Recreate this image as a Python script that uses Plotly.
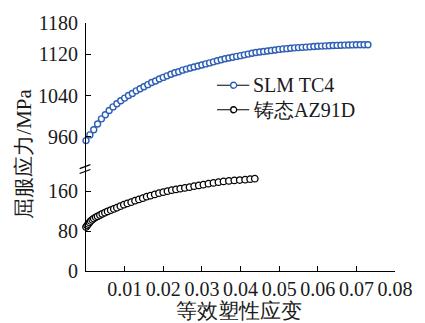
import plotly.graph_objects as go

# ---------------- data ----------------
tc4_strain = [0.000, 0.001, 0.002, 0.003, 0.004, 0.005, 0.006, 0.007, 0.008, 0.009,
              0.010, 0.011, 0.012, 0.013, 0.014, 0.015, 0.016, 0.017, 0.018, 0.019,
              0.020, 0.021, 0.022, 0.023, 0.024, 0.025, 0.026, 0.027, 0.028, 0.029,
              0.030, 0.031, 0.032, 0.033, 0.034, 0.035, 0.036, 0.037, 0.038, 0.039,
              0.040, 0.041, 0.042, 0.043, 0.044, 0.045, 0.046, 0.047, 0.048, 0.049,
              0.050, 0.051, 0.052, 0.053, 0.054, 0.055, 0.056, 0.057, 0.058, 0.059,
              0.060, 0.061, 0.062, 0.063, 0.064, 0.065, 0.066, 0.067, 0.068, 0.069,
              0.070, 0.071, 0.072, 0.073]
tc4_stress = [953, 964, 974, 985, 995, 1003, 1011, 1018, 1024, 1030,
              1035, 1040, 1044, 1049, 1053, 1057, 1061, 1065, 1068, 1072,
              1075, 1078, 1081, 1084, 1086, 1089, 1091, 1093, 1095, 1097,
              1099, 1101, 1103, 1105, 1107, 1109, 1111, 1112.5, 1114, 1115.5,
              1117, 1118.5, 1120, 1121.5, 1123, 1124, 1125, 1126, 1127, 1128,
              1129, 1130, 1130.5, 1131.3, 1132, 1132.5, 1133, 1133.5, 1134, 1134.5,
              1135, 1135.4, 1135.8, 1136.2, 1136.5, 1136.8, 1137, 1137.3, 1137.5, 1137.7,
              1138, 1138, 1138, 1138]

az91_strain = [0.0, 0.0003, 0.0006, 0.0009, 0.0012, 0.0016, 0.002, 0.0025, 0.003, 0.0036,
               0.0042, 0.0049, 0.0056, 0.0064, 0.0072, 0.008, 0.0089, 0.0098, 0.0107, 0.0117,
               0.0127, 0.0137, 0.0147, 0.0157, 0.0167, 0.0178, 0.0189, 0.02, 0.0211, 0.0222,
               0.0233, 0.0244, 0.0256, 0.0268, 0.028, 0.0292, 0.0304, 0.0317, 0.033, 0.0343,
               0.0356, 0.037, 0.0384, 0.0398, 0.0412, 0.0425, 0.0437]
az91_stress = [88, 91, 94, 97, 100, 102.5, 105, 107.5, 109.5, 112,
               114.5, 117, 119.5, 122, 124.5, 127, 130, 133, 135.5, 138,
               141, 143.5, 146, 149, 151, 153.5, 156, 158, 160, 162,
               163.5, 165, 166.5, 168, 170, 171.5, 173, 175, 176.5, 178,
               179.5, 180.5, 181.5, 182.3, 183, 184, 185]

series_names = ["SLM TC4", "铸态AZ91D"]
x_ticks = [0.01, 0.02, 0.03, 0.04, 0.05, 0.06, 0.07, 0.08]
y_upper_ticks = [960, 1040, 1120, 1180]
y_lower_ticks = [0, 80, 160]
x_title = "等效塑性应变"
y_title = "屈服应力/MPa"

# ---------------- style ----------------
BLUE = "#2d5fb5"
TXT = "#1a1a1a"
FONT = "Liberation Serif"
SPLIT = 0.411

fig = go.Figure()
fig.add_trace(go.Scatter(
    x=tc4_strain, y=tc4_stress, xaxis="x", yaxis="y2", mode="lines+markers",
    name=series_names[0], cliponaxis=False, showlegend=False,
    line=dict(color="black", width=0.8),
    marker=dict(symbol="circle", size=6, color="white", line=dict(color=BLUE, width=1.4)),
))
fig.add_trace(go.Scatter(
    x=az91_strain, y=az91_stress, xaxis="x", yaxis="y", mode="lines+markers",
    name=series_names[1], cliponaxis=False, showlegend=False,
    line=dict(color="black", width=0.8),
    marker=dict(symbol="circle", size=6.5, color="white", line=dict(color="black", width=1.3)),
))

axis_common = dict(showline=True, linecolor="black", linewidth=1.2, ticks="inside",
                   ticklen=5, tickwidth=1.2, tickcolor="black", showgrid=False,
                   zeroline=False, tickfont=dict(family=FONT, size=20, color=TXT))

fig.update_layout(
    width=425, height=323,
    margin=dict(l=86, r=23, t=18, b=52),
    paper_bgcolor="white", plot_bgcolor="white",
    showlegend=False,
    font=dict(family=FONT, color=TXT),
    xaxis=dict(range=[0, 0.08], tickvals=x_ticks, ticktext=[f"{v:.2f}" for v in x_ticks],
               anchor="y", **axis_common),
    yaxis=dict(range=[0, 204.3], domain=[0, SPLIT], tickvals=y_lower_ticks,
               anchor="x", ticklabelstandoff=3, **axis_common),
    yaxis2=dict(range=[898, 1180], domain=[SPLIT, 1], tickvals=y_upper_ticks,
                anchor="x", ticklabelstandoff=3, **axis_common),
)

# axis titles
fig.add_annotation(text=x_title, xref="paper", yref="paper", x=0.496, y=-0.162,
                   showarrow=False, xanchor="center", yanchor="middle",
                   font=dict(family=FONT, size=21, color=TXT))
fig.add_annotation(text=y_title, xref="paper", yref="paper", x=-0.2, y=0.474,
                   showarrow=False, textangle=-90, xanchor="center", yanchor="middle",
                   font=dict(family=FONT, size=21, color=TXT))

# axis-break marks
W, H = 316.0, 253.0
def px2paper(px, py):
    return (px - 86) / W, (271 - py) / H
for dy in (0, 5):
    x0, y0 = px2paper(79.5, 166.5 + dy)
    x1, y1 = px2paper(90.5, 162.5 + dy)
    fig.add_shape(type="line", xref="paper", yref="paper", x0=x0, y0=y0, x1=x1, y1=y1,
                  line=dict(color="black", width=1.2))

# manual legend
legend_rows = [(81.5, BLUE), (106.5, "black")]
for (py, col), name in zip(legend_rows, series_names):
    lx0, ly = px2paper(220, py)
    lx1, _ = px2paper(253, py)
    mx, _ = px2paper(237, py)
    tx, _ = px2paper(255, py)
    fig.add_shape(type="line", xref="paper", yref="paper", x0=lx0, x1=lx1, y0=ly, y1=ly,
                  line=dict(color="black", width=1))
    fig.add_shape(type="circle", xref="paper", yref="paper", xsizemode="pixel", ysizemode="pixel",
                  xanchor=mx, yanchor=ly, x0=-3, x1=3, y0=-3, y1=3,
                  fillcolor="white", line=dict(color=col, width=1.3))
    fig.add_annotation(text=name, xref="paper", yref="paper", x=tx, y=ly, showarrow=False,
                       xanchor="left", yanchor="middle",
                       font=dict(family=FONT, size=20, color=TXT))

fig.write_html("out.html", config={"displayModeBar": False},
               post_script="document.body.style.margin='0';")
